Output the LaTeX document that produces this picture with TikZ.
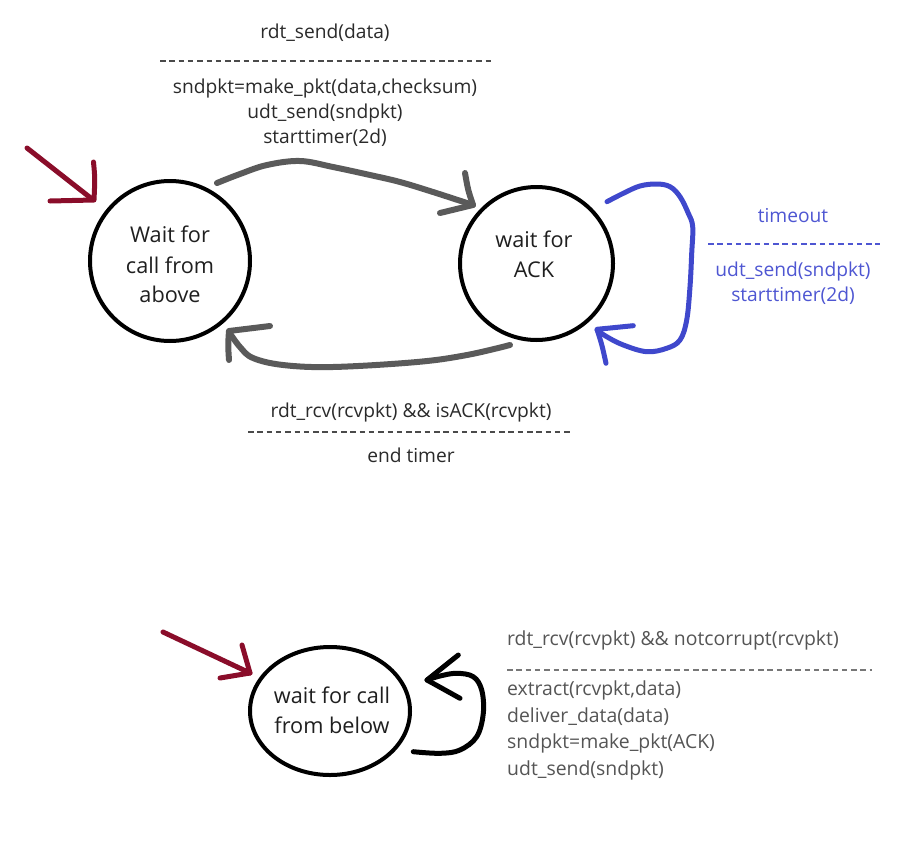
\documentclass[tikz,border=0pt]{standalone}
\usepackage{fontspec}
\setmainfont{Open Sans}
\usetikzlibrary{shapes.geometric}
\definecolor{redarr}{HTML}{8A0D2A}
\definecolor{grayarr}{HTML}{5A5A5A}
\definecolor{bluearr}{HTML}{3F48CC}
\definecolor{bluetxt}{HTML}{4E56D2}
\definecolor{lbltxt}{HTML}{2A2A2A}
\definecolor{lbltxtb}{HTML}{555555}
\tikzset{
  state/.style={circle,draw=black,line width=4pt,inner sep=0pt},
  lbl/.style={anchor=base,inner sep=0pt,text=lbltxt,font=\fontsize{19.2}{23}\selectfont},
  lblL/.style={anchor=base west,inner sep=0pt,text=lbltxtb,font=\fontsize{19.4}{23}\selectfont},
  stxt/.style={anchor=base,inner sep=0pt,text=black!88,font=\fontsize{21.7}{26}\selectfont},
  sep/.style={line width=1.1pt,dash pattern=on 5.5pt off 3.8pt},
  hand/.style={line cap=round,line join=round},
}
\begin{document}
\begin{tikzpicture}[x=1pt,y=-1pt]
\useasboundingbox (0,0) rectangle (901,851);
% states
\node[state,minimum size=160pt] (above) at (170,261) {};
\node[state,minimum size=153pt] (ack) at (536.5,263.5) {};
\node[ellipse,draw=black,line width=4pt,minimum width=160pt,minimum height=128pt,inner sep=0pt] (below) at (330,711) {};
% state texts
\node[stxt] (t1) at (170,242) {Wait for};
\node[stxt] (t2) at (170,273) {call from};
\node[stxt] (t3) at (170,302) {above};
\node[stxt] (t4) at (534,247) {wait for};
\node[stxt] (t5) at (534,277) {ACK};
\node[stxt] (t6) at (332,703) {wait for call};
\node[stxt] (t7) at (332,733) {from below};
% top label
\node[lbl] (l1) at (325,38) {rdt\_send(data)};
\coordinate (d1a) at (160,61); \coordinate (d1b) at (492,61);
\draw[sep,draw=lbltxt!85] (d1a) -- (d1b);
\node[lbl] (l2) at (325,93) {sndpkt=make\_pkt(data,checksum)};
\node[lbl] (l3) at (325,118) {udt\_send(sndpkt)};
\node[lbl] (l4) at (325,143) {starttimer(2d)};
% bottom label
\node[lbl] (m1) at (411,417) {rdt\_rcv(rcvpkt) \&\& isACK(rcvpkt)};
\coordinate (d2a) at (248,432); \coordinate (d2b) at (573,432);
\draw[sep,draw=lbltxt!85] (d2a) -- (d2b);
\node[lbl] (m2) at (411,462) {end timer};
% blue label
\node[lbl,text=bluetxt] (b1) at (793,222) {timeout};
\coordinate (d3a) at (708,244); \coordinate (d3b) at (880,244);
\draw[sep,draw=bluetxt] (d3a) -- (d3b);
\node[lbl,text=bluetxt] (b2) at (793,276) {udt\_send(sndpkt)};
\node[lbl,text=bluetxt] (b3) at (793,301) {starttimer(2d)};
% bottom-right label
\node[lblL] (r1) at (507,645) {rdt\_rcv(rcvpkt) \&\& notcorrupt(rcvpkt)};
\coordinate (d4a) at (507,670); \coordinate (d4b) at (872,670);
\draw[sep,draw=lbltxtb!80] (d4a) -- (d4b);
\node[lblL] (r2) at (507,695) {extract(rcvpkt,data)};
\node[lblL] (r3) at (507,722) {deliver\_data(data)};
\node[lblL] (r4) at (507,748) {sndpkt=make\_pkt(ACK)};
\node[lblL] (r5) at (507,775) {udt\_send(sndpkt)};
% red initial arrows
\draw[hand,redarr,line width=5pt] (27,148) -- (92,199);
\draw[hand,redarr,line width=5pt] (93.5,162) .. controls (95,178) .. (94,200) -- (50,201);
\draw[hand,redarr,line width=5pt] (163,632) -- (250,673);
\draw[hand,redarr,line width=5pt] (242,645) -- (250,673) -- (220,678);
% gray top arrow
\draw[hand,grayarr,line width=6pt] plot[smooth,tension=0.6] coordinates
  {(217,183) (240,174) (267,165) (300,161) (333,167) (370,175) (400,182) (433,192) (473,205)};
\draw[hand,grayarr,line width=6pt] (465,173) .. controls (468,190) .. (473,205) -- (440,213);
% gray bottom arrow
\draw[hand,grayarr,line width=6pt] plot[smooth,tension=0.6] coordinates
  {(510,345) (467,355) (417,362) (333,367) (283,365) (253,358) (240,347) (229,332)};
\draw[hand,grayarr,line width=6pt] (270,326) -- (229,331) .. controls (228,345) .. (229,360);
% blue self loop
\draw[hand,bluearr,line width=5pt] plot[smooth,tension=0.6] coordinates
  {(607,201.7) (623.3,193.3) (640,186) (656.7,184) (670,186.7) (680,196.7) (688.3,213.3) (692.7,226.7) (691.7,253.3) (690,286.7) (686.7,320) (680,340) (666.7,348.3) (646.7,351.7) (623.3,345) (606.7,336.7) (597,330)};
\draw[hand,bluearr,line width=5pt] (633.3,325.7) -- (597,329.3) .. controls (602,345) .. (606,363.3);
% black self loop
\draw[hand,black,line width=5pt] plot[smooth,tension=0.6] coordinates
  {(413.3,751.7) (440,753.3) (460,750) (476.7,736.7) (483.3,713.3) (481.7,690) (473.3,676.7) (456.7,673.3) (440,676) (427,680)};
\draw[hand,black,line width=5pt] (458.3,655) -- (427,680) -- (460,698.3);
\end{tikzpicture}
\end{document}
